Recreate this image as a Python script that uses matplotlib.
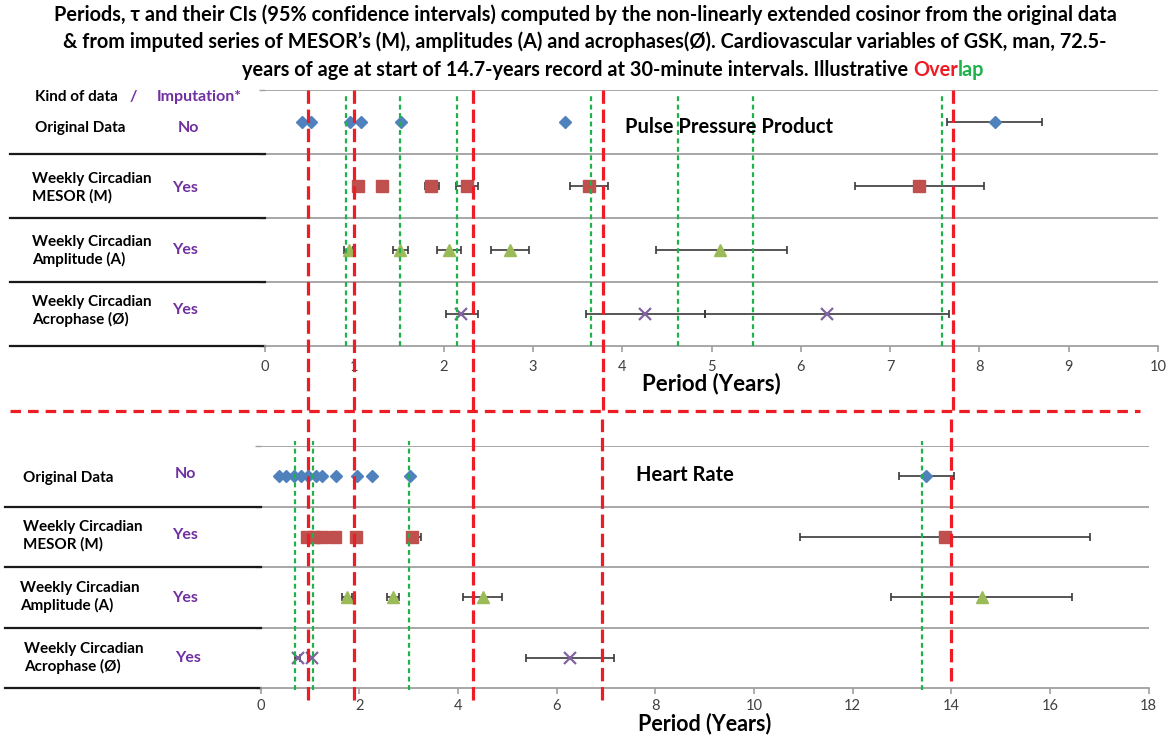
import numpy as np
import matplotlib.pyplot as plt
from matplotlib.lines import Line2D

plt.rcParams['font.family'] = ['Lato', 'DejaVu Sans']

nan = np.nan
W, H = 1172, 738

# --- Pulse Pressure Product (top panel), periods in years, CI where shown
pp_orig = [0.41, 0.52, 0.95, 1.07, 1.52, 3.36, 8.17]
pp_orig_lo = [nan, nan, nan, nan, nan, nan, 7.64]
pp_orig_hi = [nan, nan, nan, nan, nan, nan, 8.70]
pp_mesor = [1.04, 1.31, 1.86, 2.26, 3.63, 7.32]
pp_mesor_lo = [nan, nan, 1.79, 2.14, 3.41, 6.61]
pp_mesor_hi = [nan, nan, 1.95, 2.39, 3.84, 8.05]
pp_amp = [0.94, 1.51, 2.06, 2.74, 5.10]
pp_amp_lo = [0.89, 1.43, 1.93, 2.53, 4.38]
pp_amp_hi = [0.99, 1.60, 2.20, 2.96, 5.84]
pp_acro = [2.20, 4.25, 6.29]
pp_acro_lo = [2.03, 3.59, 4.93]
pp_acro_hi = [2.39, 4.93, 7.66]
pp_red = [0.48, 1.00, 2.33, 3.78, 7.70]
pp_green = [0.91, 1.51, 2.15, 3.65, 4.63, 5.47, 7.58]

# --- Heart Rate (bottom panel)
hr_orig = [0.38, 0.51, 0.67, 0.82, 0.97, 1.12, 1.24, 1.54, 1.95, 2.27, 3.04, 13.50]
hr_orig_lo = [nan] * 11 + [12.94]
hr_orig_hi = [nan] * 11 + [14.06]
hr_mesor = [0.94, 1.09, 1.25, 1.51, 1.93, 3.08, 13.87]
hr_mesor_lo = [nan, nan, nan, nan, nan, 2.96, 10.94]
hr_mesor_hi = [nan, nan, nan, nan, nan, 3.25, 16.82]
hr_amp = [1.76, 2.68, 4.50, 14.62]
hr_amp_lo = [1.66, 2.56, 4.11, 12.79]
hr_amp_hi = [1.86, 2.80, 4.90, 16.44]
hr_acro = [0.75, 1.05, 6.27]
hr_acro_lo = [0.70, nan, 5.39]
hr_acro_hi = [0.80, nan, 7.16]
hr_red = [0.97, 1.90, 4.30, 6.93, 14.0]
hr_green = [0.70, 1.06, 3.02, 13.40]

row_names = ['Original Data', 'Weekly Circadian\nMESOR (M)',
             'Weekly Circadian\nAmplitude (A)', 'Weekly Circadian\nAcrophase (Ø)']
imputed = ['No', 'Yes', 'Yes', 'Yes']

BLUE, RED, GREEN, PURPLE = '#4f81bd', '#c0504d', '#9bbb59', '#8064a2'
LRED, LGREEN = '#ee1c25', '#1fb14a'
TXTPURPLE = '#7030a0'


def draw_row(ax, y, vals, lo, hi, marker, color, ms):
    vals, lo, hi = np.array(vals), np.array(lo), np.array(hi)
    ok = ~np.isnan(lo)
    if ok.any():
        ax.errorbar(vals[ok], np.full(ok.sum(), y),
                    xerr=[vals[ok] - lo[ok], hi[ok] - vals[ok]],
                    fmt='none', ecolor='#3a3a3a', elinewidth=1.2,
                    capsize=3, capthick=1.2, zorder=2)
    if marker == 'x':
        ax.plot(vals, np.full(len(vals), y), ls='none', marker='x',
                color=color, ms=8, mew=1.6, zorder=3)
    else:
        ax.plot(vals, np.full(len(vals), y), ls='none', marker=marker,
                color=color, mec=color, ms=ms, zorder=3)


def setup(ax, xmax, step, pad):
    ax.set_xlim(0, xmax)
    ax.set_ylim(0, 4)
    ax.set_xticks(np.arange(0, xmax + 0.1, step))
    ax.set_yticks([0, 1, 2, 3, 4])
    ax.set_yticklabels([])
    for s in ['top', 'right', 'left']:
        ax.spines[s].set_visible(False)
    ax.spines['bottom'].set_color('#a0a0a0')
    ax.spines['bottom'].set_linewidth(1.3)
    ax.tick_params(axis='x', colors='#a0a0a0', labelcolor='#404040',
                   labelsize=10.5, length=4, width=1.2, pad=pad)
    ax.tick_params(axis='y', colors='#a0a0a0', length=4, width=1)
    for yy in [1, 2, 3, 4]:
        ax.axhline(yy, color='#a0a0a0', lw=1.3, zorder=1)


fig = plt.figure(figsize=(W / 100, H / 100), dpi=100)
ax1 = fig.add_axes([265 / W, 1 - 346 / H, 893 / W, 256 / H])
ax2 = fig.add_axes([260.5 / W, 1 - 688 / H, 888 / W, 242 / H])

setup(ax1, 10, 1, 6)
setup(ax2, 18, 2, 4)

draw_row(ax1, 3.5, pp_orig, pp_orig_lo, pp_orig_hi, 'D', BLUE, 6)
draw_row(ax1, 2.5, pp_mesor, pp_mesor_lo, pp_mesor_hi, 's', RED, 8)
draw_row(ax1, 1.5, pp_amp, pp_amp_lo, pp_amp_hi, '^', GREEN, 8.5)
draw_row(ax1, 0.5, pp_acro, pp_acro_lo, pp_acro_hi, 'x', PURPLE, 8)

draw_row(ax2, 3.5, hr_orig, hr_orig_lo, hr_orig_hi, 'D', BLUE, 6)
draw_row(ax2, 2.5, hr_mesor, hr_mesor_lo, hr_mesor_hi, 's', RED, 8)
draw_row(ax2, 1.5, hr_amp, hr_amp_lo, hr_amp_hi, '^', GREEN, 8.5)
draw_row(ax2, 0.5, hr_acro, hr_acro_lo, hr_acro_hi, 'x', PURPLE, 8)

# overlap lines: red long dashes, green short dashes
for v in pp_red:
    ax1.axvline(v, ymin=-0.25, ymax=1.0, color=LRED, lw=2.3,
                dashes=(4.2, 1.8), clip_on=False, zorder=5)
for v in pp_green:
    ax1.axvline(v, ymin=0.0, ymax=0.98, color=LGREEN, lw=1.6,
                dashes=(2.2, 1.6), zorder=4)
for v in hr_red:
    ax2.axvline(v, ymin=-0.05 if v < 10 else 0.03, ymax=1.11, color=LRED,
                lw=2.3, dashes=(4.2, 1.8), clip_on=False, zorder=5)
for v in hr_green:
    ax2.axvline(v, ymin=-0.01, ymax=1.02, color=LGREEN, lw=1.6,
                dashes=(2.2, 1.6), clip_on=False, zorder=4)

# table lines on the left
for yy in [0, 1, 2, 3]:
    ax1.axhline(yy, xmin=-0.286, xmax=0, color='#1a1a1a', lw=1.6, clip_on=False)
    ax2.axhline(yy, xmin=-0.288, xmax=0, color='#1a1a1a', lw=1.6, clip_on=False)

ax1.set_xlabel('Period (Years)', fontsize=16, fontweight='bold', labelpad=-1)
ax2.set_xlabel('Period (Years)', fontsize=15.5, fontweight='bold', labelpad=0)

# divider between the two panels
fig.add_artist(Line2D([10 / W, 1140 / W], [1 - 411 / H, 1 - 411 / H],
                      transform=fig.transFigure, color=LRED, lw=2.3,
                      dashes=(3.3, 2.2)))


def ftext(x, y, s, **kw):
    kw.setdefault('fontweight', 'bold')
    kw.setdefault('va', 'center')
    return fig.text(x / W, 1 - y / H, s, **kw)


# left labels
ftext(35, 97, 'Kind of data', fontsize=11)
ftext(130, 97, '/', fontsize=11.5, color=TXTPURPLE)
ftext(157, 97, 'Imputation*', fontsize=11.5, color=TXTPURPLE)
top_y = [128, 188, 251, 311]
top_x = [35, 32, 32, 32]
top_yes = [(178, 128), (172, 188), (172, 250), (172, 310)]
for name, imp, x, y, (xi, yi) in zip(row_names, imputed, top_x, top_y, top_yes):
    ftext(x, y, name, fontsize=11, linespacing=1.25)
    ftext(xi, yi, imp, fontsize=11.5, color=TXTPURPLE)

bot_y = [478, 536, 597, 658]
bot_x = [23, 23, 20, 24]
bot_yes = [(175, 474), (172, 535), (172, 598), (175, 658)]
for name, imp, x, y, (xi, yi) in zip(row_names, imputed, bot_x, bot_y, bot_yes):
    ftext(x, y, name, fontsize=11, linespacing=1.25)
    ftext(xi, yi, imp, fontsize=11.5, color=TXTPURPLE)

# panel names
ftext(625, 127, 'Pulse Pressure Product', fontsize=14.5)
ftext(636, 475, 'Heart Rate', fontsize=14.5)

# title
tsize = 14.3
ftext(585, 15, 'Periods, τ and their CIs (95% confidence intervals) computed by the '
      'non-linearly extended cosinor from the original data', fontsize=tsize, ha='center')
ftext(585, 42, '& from imputed series of MESOR’s (M), amplitudes (A) and acrophases(Ø). '
      'Cardiovascular variables of GSK, man, 72.5-', fontsize=tsize, ha='center')

# third line with coloured "Overlap"
prefix = 'years of age at start of 14.7-years record at 30-minute intervals. Illustrative'
r = fig.canvas.get_renderer()


def width(s):
    t = ftext(0, -100, s, fontsize=tsize)
    w = t.get_window_extent(renderer=r).width
    t.remove()
    return w


w_all = width(prefix + ' Overlap')
x0 = 613 - w_all / 2
x_over = x0 + width(prefix + ' Over') - width('Over')
x_lap = x0 + width(prefix + ' Overlap') - width('lap')
ftext(x0, 70, prefix, fontsize=tsize, ha='left')
ftext(x_over, 70, 'Over', fontsize=tsize, ha='left', color=LRED)
ftext(x_lap, 70, 'lap', fontsize=tsize, ha='left', color=LGREEN)

fig.savefig('out.png', dpi=100)
